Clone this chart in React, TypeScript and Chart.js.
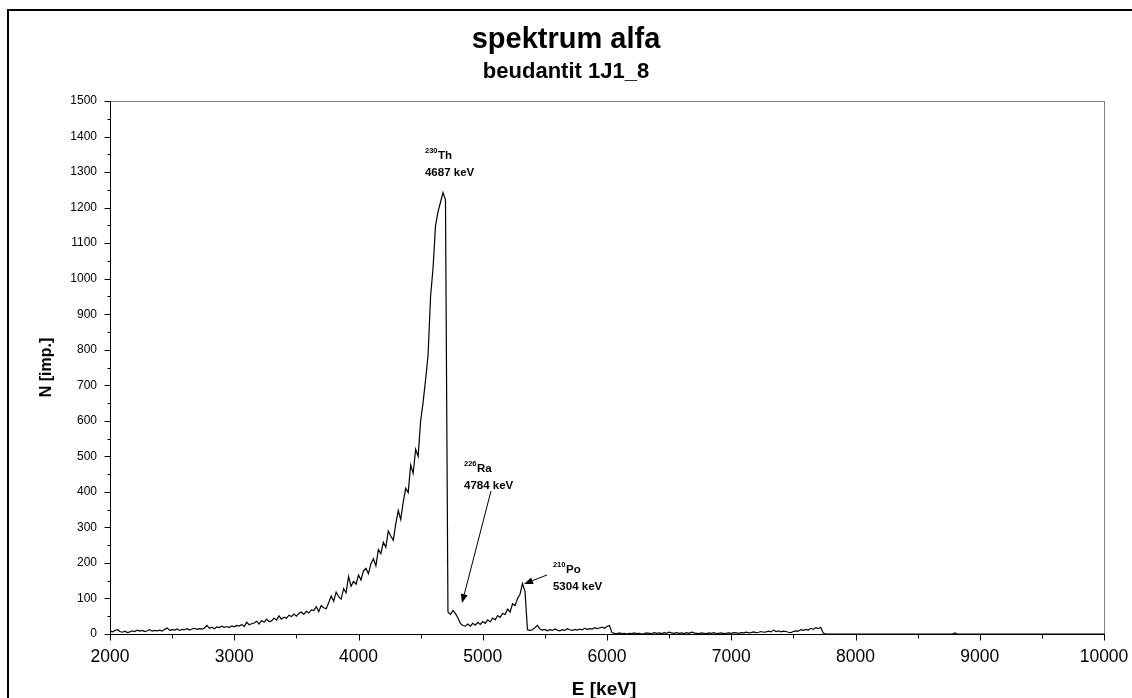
import { useEffect, useRef } from "react";
import { Chart, registerables } from "chart.js";

Chart.register(...registerables);

// Channel width of the stored spectrum, keV
const CHANNEL_STEP = 20;

// Counts per channel, one block per 1000 keV (first channel at the block energy)
const COUNTS_2000 = [
  8, 6, 10, 12, 7, 5, 8, 4, 6, 9,
  7, 11, 8, 10, 7, 9, 12, 8, 10, 9,
  11, 8, 13, 17, 10, 12, 11, 14, 10, 13,
  12, 15, 11, 14, 16, 13, 15, 14, 17, 24,
  16, 19, 15, 20, 18, 22, 19, 21, 18, 23,
];
const COUNTS_3000 = [
  20, 24, 22, 27, 21, 33, 26, 29, 31, 36,
  28, 38, 33, 42, 35, 37, 45, 39, 51, 42,
  47, 44, 53, 49, 56, 50, 58, 62, 55, 64,
  59, 68, 66, 77, 63, 80, 74, 71, 88, 107,
  92, 118, 105, 98, 128, 116, 162, 134, 148, 140,
];
const COUNTS_4000 = [
  166, 152, 178, 185, 170, 198, 212, 192, 238, 226,
  258, 244, 290, 276, 264, 310, 348, 322, 372, 410,
  398, 476, 452, 520, 500, 600, 652, 716, 785, 950,
  1030, 1150, 1188, 1215, 1242, 1222, 62, 55, 66, 58,
  45, 30, 24, 22, 28, 22, 30, 25, 33, 27,
];
const COUNTS_5000 = [
  35, 30, 40, 34, 45, 40, 52, 47, 58, 55,
  70, 62, 85, 80, 100, 112, 142, 120, 12, 10,
  12, 18, 24, 14, 11, 13, 9, 12, 10, 14,
  11, 9, 12, 10, 15, 12, 10, 13, 11, 14,
  12, 16, 13, 15, 14, 18, 15, 17, 19, 16,
];
const COUNTS_6000 = [
  21, 24, 4, 2, 1, 3, 1, 2, 0, 2,
  1, 3, 1, 2, 0, 1, 3, 2, 1, 4,
  2, 3, 1, 4, 2, 5, 3, 2, 4, 2,
  3, 1, 4, 2, 5, 3, 2, 1, 3, 2,
  1, 3, 2, 4, 1, 2, 3, 1, 2, 3,
];
const COUNTS_7000 = [
  2, 4, 3, 2, 4, 3, 5, 3, 4, 6,
  4, 5, 7, 5, 6, 8, 6, 11, 7, 9,
  6, 8, 7, 5, 4, 7, 9, 8, 12, 10,
  13, 11, 16, 13, 18, 15, 19, 3,
];
const BLOCK_START = [2000, 3000, 4000, 5000, 6000, 7000];
const BLOCK_COUNTS = [COUNTS_2000, COUNTS_3000, COUNTS_4000, COUNTS_5000, COUNTS_6000, COUNTS_7000];

// Empty high-energy end of the spectrum
const TAIL_ENERGY = [7760, 8780, 8800, 8820, 10000];
const TAIL_COUNTS = [0, 0, 3, 0, 0];

const X_TICKS = [2000, 3000, 4000, 5000, 6000, 7000, 8000, 9000, 10000];
const Y_TICKS = [0, 100, 200, 300, 400, 500, 600, 700, 800, 900, 1000, 1100, 1200, 1300, 1400, 1500];

const TITLE = "spektrum alfa";
const SUBTITLE = "beudantit 1J1_8";
const X_TITLE = "E [keV]";
const Y_TITLE = "N [imp.]";

// Peak annotations
const PEAK_MASS = ["230", "226", "210"];
const PEAK_SYMBOL = ["Th", "Ra", "Po"];
const PEAK_ENERGY_TEXT = ["4687 keV", "4784 keV", "5304 keV"];

// Where each annotation sits, in axis units (E, N) of its first text line
const LABEL_ANCHOR = [
  { e: 4535, n: 1337 },
  { e: 4849, n: 456 },
  { e: 5565, n: 173 },
];
const LABEL_ARROW = [
  null,
  { from: { e: 5066, n: 402 }, to: { e: 4833, n: 87 } },
  { from: { e: 5517, n: 166 }, to: { e: 5332, n: 141 } },
];

const FONT = '"Liberation Sans", Arial, sans-serif';

function buildPoints() {
  const pts: { x: number; y: number }[] = [];
  BLOCK_COUNTS.forEach((block, b) => {
    block.forEach((n, i) => pts.push({ x: BLOCK_START[b] + i * CHANNEL_STEP, y: n }));
  });
  TAIL_ENERGY.forEach((e, i) => pts.push({ x: e, y: TAIL_COUNTS[i] }));
  return pts;
}

const decorPlugin = {
  id: "decor",
  beforeDatasetsDraw(chart: any) {
    const { ctx, chartArea: a, scales } = chart;
    const xs = scales.x;
    const ys = scales.y;
    ctx.save();
    // plot frame
    ctx.strokeStyle = "#808080";
    ctx.lineWidth = 1;
    ctx.strokeRect(Math.round(a.left) + 0.5, Math.round(a.top) + 0.5, Math.round(a.right - a.left), Math.round(a.bottom - a.top));
    // axes
    ctx.strokeStyle = "#000";
    const x0 = Math.round(a.left) + 0.5;
    const y0 = Math.round(a.bottom) + 0.5;
    ctx.beginPath();
    ctx.moveTo(x0, Math.round(a.top));
    ctx.lineTo(x0, y0);
    ctx.lineTo(Math.round(a.right) + 1, y0);
    // y ticks: major + minor halfway
    for (let i = 0; i < Y_TICKS.length; i++) {
      const py = Math.round(ys.getPixelForValue(Y_TICKS[i])) + 0.5;
      ctx.moveTo(x0 - 6, py);
      ctx.lineTo(x0, py);
      if (i < Y_TICKS.length - 1) {
        const my = Math.round(ys.getPixelForValue((Y_TICKS[i] + Y_TICKS[i + 1]) / 2)) + 0.5;
        ctx.moveTo(x0 - 3, my);
        ctx.lineTo(x0, my);
      }
    }
    for (let i = 0; i < X_TICKS.length; i++) {
      const px = Math.round(xs.getPixelForValue(X_TICKS[i])) + 0.5;
      ctx.moveTo(px, y0);
      ctx.lineTo(px, y0 + 6);
      if (i < X_TICKS.length - 1) {
        const mx = Math.round(xs.getPixelForValue((X_TICKS[i] + X_TICKS[i + 1]) / 2)) + 0.5;
        ctx.moveTo(mx, y0);
        ctx.lineTo(mx, y0 + 4);
      }
    }
    ctx.stroke();
    ctx.restore();
  },
  afterDraw(chart: any) {
    const { ctx, chartArea: a, scales, width, height } = chart;
    const xs = scales.x;
    const ys = scales.y;
    ctx.save();
    // outer frame
    ctx.fillStyle = "#000";
    ctx.fillRect(7, 9, width - 7, 2);
    ctx.fillRect(7, 9, 2, height - 9);

    ctx.fillStyle = "#000";
    ctx.textAlign = "center";
    ctx.textBaseline = "alphabetic";
    ctx.font = `bold 29px ${FONT}`;
    ctx.fillText(TITLE, width / 2, 48);
    ctx.font = `bold 22px ${FONT}`;
    ctx.fillText(SUBTITLE, width / 2, 78);

    ctx.font = `bold 19px ${FONT}`;
    ctx.fillText(X_TITLE, (a.left + a.right) / 2 - 3, 695);

    ctx.save();
    ctx.translate(51, (a.top + a.bottom) / 2);
    ctx.rotate(-Math.PI / 2);
    ctx.font = `bold 16px ${FONT}`;
    ctx.fillText(Y_TITLE, 0, 0);
    ctx.restore();

    // peak labels
    ctx.textAlign = "left";
    for (let i = 0; i < PEAK_MASS.length; i++) {
      const px = xs.getPixelForValue(LABEL_ANCHOR[i].e);
      const py = ys.getPixelForValue(LABEL_ANCHOR[i].n);
      ctx.font = `bold 7.5px ${FONT}`;
      ctx.fillText(PEAK_MASS[i], px, py - 6);
      const w = ctx.measureText(PEAK_MASS[i]).width;
      ctx.font = `bold 11.5px ${FONT}`;
      ctx.fillText(PEAK_SYMBOL[i], px + w + 0.5, py);
      ctx.fillText(PEAK_ENERGY_TEXT[i], px, py + 17);

      const arr = LABEL_ARROW[i];
      if (arr) {
        const fx = xs.getPixelForValue(arr.from.e);
        const fy = ys.getPixelForValue(arr.from.n);
        const tx = xs.getPixelForValue(arr.to.e);
        const ty = ys.getPixelForValue(arr.to.n);
        const ang = Math.atan2(ty - fy, tx - fx);
        const headLen = 9;
        const headHalf = 3.5;
        const bx = tx - headLen * Math.cos(ang);
        const by = ty - headLen * Math.sin(ang);
        ctx.strokeStyle = "#000";
        ctx.lineWidth = 1;
        ctx.beginPath();
        ctx.moveTo(fx, fy);
        ctx.lineTo(bx, by);
        ctx.stroke();
        ctx.beginPath();
        ctx.moveTo(tx, ty);
        ctx.lineTo(bx + headHalf * Math.sin(ang), by - headHalf * Math.cos(ang));
        ctx.lineTo(bx - headHalf * Math.sin(ang), by + headHalf * Math.cos(ang));
        ctx.closePath();
        ctx.fill();
      }
    }
    ctx.restore();
  },
};

export default function App() {
  const canvasRef = useRef<HTMLCanvasElement | null>(null);

  useEffect(() => {
    let chart: Chart | null = null;
    let cancelled = false;
    const fonts = [`bold 16px ${FONT}`, `16px ${FONT}`];
    Promise.all(fonts.map((f) => document.fonts.load(f).catch(() => null))).then(() => {
      if (cancelled || !canvasRef.current) return;
      chart = new Chart(canvasRef.current, {
        type: "line",
        data: {
          datasets: [
            {
              data: buildPoints(),
              borderColor: "#000",
              borderWidth: 1.2,
              pointRadius: 0,
              tension: 0,
              fill: false,
            },
          ],
        },
        options: {
          animation: false,
          responsive: false,
          devicePixelRatio: 1,
          events: [],
          layout: { padding: { top: 101, right: 28, bottom: 0, left: 0 } },
          plugins: {
            legend: { display: false },
            tooltip: { enabled: false },
            title: { display: false },
          },
          scales: {
            x: {
              type: "linear",
              min: 2000,
              max: 10000,
              grid: { display: false, drawTicks: true, tickLength: 13 },
              border: { display: false },
              ticks: {
                stepSize: 1000,
                autoSkip: false,
                maxRotation: 0,
                color: "#000",
                padding: 0,
                font: { family: FONT, size: 17.5 },
                callback: (v: any) => String(v),
              },
              afterFit: (s: any) => {
                s.height = 64;
              },
            },
            y: {
              min: 0,
              max: 1500,
              grid: { display: false, drawTicks: true, tickLength: 13 },
              border: { display: false },
              ticks: {
                stepSize: 100,
                color: "#000",
                padding: 0,
                font: { family: FONT, size: 12 },
                callback: (v: any) => String(v),
              },
              afterFit: (s: any) => {
                s.width = 110;
              },
            },
          },
        },
        plugins: [decorPlugin],
      });
    });
    return () => {
      cancelled = true;
      if (chart) chart.destroy();
    };
  }, []);

  return (
    <div style={{ position: "fixed", left: 0, top: 0, width: 1132, height: 698, background: "#fff" }}>
      <canvas ref={canvasRef} width={1132} height={698} style={{ display: "block" }} />
    </div>
  );
}
